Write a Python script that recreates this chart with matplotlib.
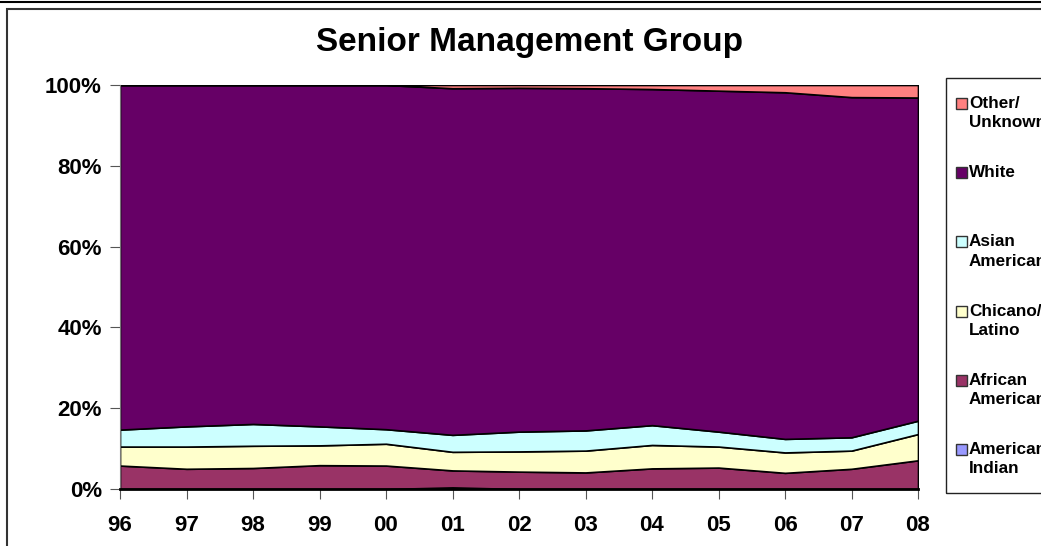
import matplotlib.pyplot as plt
from matplotlib.patches import Rectangle
from matplotlib.lines import Line2D
from matplotlib.ticker import FuncFormatter

plt.rcParams['font.family'] = ['Liberation Sans', 'DejaVu Sans']
plt.rcParams['font.weight'] = 'bold'

years = ['96', '97', '98', '99', '00', '01', '02', '03', '04', '05', '06', '07', '08']

# percentages of group, bottom to top
american_indian = [0, 0, 0, 0, 0, 0.4, 0, 0, 0, 0, 0, 0, 0]
african_american = [5.8, 5.0, 5.2, 5.9, 5.8, 4.2, 4.3, 4.1, 5.1, 5.3, 4.0, 5.0, 7.1]
chicano_latino = [4.7, 5.5, 5.5, 4.9, 5.4, 4.6, 5.0, 5.4, 5.8, 5.2, 5.05, 4.5, 6.5]
asian_american = [4.2, 5.0, 5.4, 4.7, 3.6, 4.2, 4.9, 5.0, 4.9, 3.7, 3.35, 3.3, 3.3]
white = [85.3, 84.5, 83.9, 84.5, 85.2, 85.8, 85.1, 84.7, 83.2, 84.4, 85.8, 84.2, 80.0]
other_unknown = [0, 0, 0, 0, 0, 0.8, 0.7, 0.8, 1.0, 1.4, 1.8, 3.0, 3.1]

labels = ['American\nIndian', 'African\nAmerican', 'Chicano/\nLatino',
          'Asian\nAmerican', 'White', 'Other/\nUnknown']
colors = ['#9999FF', '#993366', '#FFFFCC', '#CCFFFF', '#660066', '#FF8080']

W, H = 1041, 546
fig = plt.figure(figsize=(W / 100, H / 100), dpi=100)

# outer frame
fig.add_artist(Line2D([0, 1], [1 - 2 / H, 1 - 2 / H], color='black', lw=1.5,
                      transform=fig.transFigure))
fig.add_artist(Rectangle((7 / W, -0.1), 1.2, 1.1 - 9 / H, fill=False,
                         edgecolor='#333333', lw=1.5, transform=fig.transFigure))

ax = fig.add_axes([120 / W, 57 / H, 798 / W, 404 / H])
x = list(range(len(years)))
ax.stackplot(x, american_indian, african_american, chicano_latino,
             asian_american, white, other_unknown,
             colors=colors, edgecolor='black', linewidth=1.2)

ax.set_xlim(0, len(years) - 1)
ax.set_ylim(0, 100)
ax.set_xticks(x)
ax.set_xticklabels(years)
ax.set_yticks([0, 20, 40, 60, 80, 100])
ax.yaxis.set_major_formatter(FuncFormatter(lambda v, p: '%d%%' % v))
ax.tick_params(axis='both', labelsize=16, direction='out', length=7, color='#555555')
ax.tick_params(axis='x', pad=12)
ax.tick_params(axis='y', pad=6)
for s in ['top', 'right']:
    ax.spines[s].set_visible(False)
ax.spines['left'].set_color('#777777')
ax.spines['bottom'].set_color('black')
ax.spines['bottom'].set_linewidth(2)

fig.text(530 / W, 1 - 42 / H, 'Senior Management Group', ha='center', va='center',
         fontsize=24, fontweight='bold')

# legend box drawn by hand so the swatch sits on the first text line
fig.add_artist(Rectangle((946 / W, 1 - 493 / H), 0.2, (493 - 78) / H, fill=False,
                         edgecolor='#222222', lw=1, transform=fig.transFigure))
top = 98
step = 69.2
for i, (lab, c) in enumerate(zip(labels[::-1], colors[::-1])):
    y = top + i * step
    fig.add_artist(Rectangle((956 / W, 1 - (y + 11) / H), 10.5 / W, 11 / H,
                             facecolor=c, edgecolor='#333333', lw=1,
                             transform=fig.transFigure))
    fig.text(969 / W, 1 - (y - 2) / H, lab, ha='left', va='top', fontsize=12.3,
             fontweight='bold', linespacing=1.35)

fig.savefig('out.png', dpi=100)
